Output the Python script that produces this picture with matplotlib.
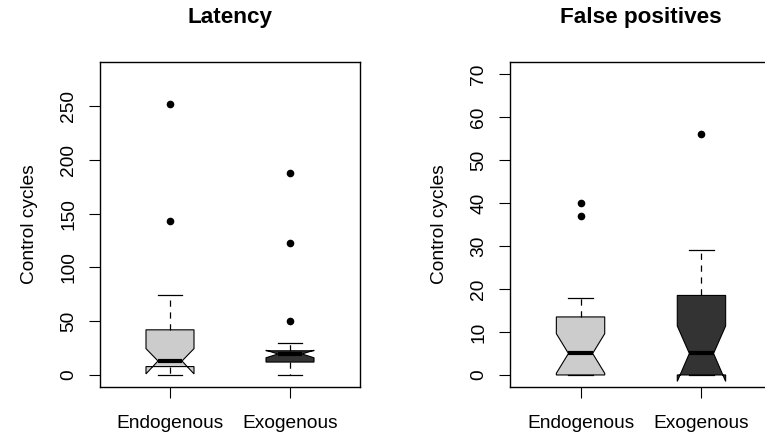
import matplotlib
matplotlib.use('Agg')
import matplotlib.pyplot as plt

plt.rcParams.update({
    'font.family': ['Liberation Sans', 'DejaVu Sans'],
    'font.size': 13.8,
})

# ---- data ----
groups = ['Endogenous', 'Exogenous']
fills = ['#CCCCCC', '#333333']

lat_q1 = [7.8, 12.0]
lat_med = [13.0, 19.5]
lat_q3 = [42.0, 22.5]
lat_cilo = [1.0, 16.0]
lat_cihi = [24.5, 23.0]
lat_whislo = [0, 0]
lat_whishi = [74, 30]
lat_fliers = [[143, 252], [50, 123, 188]]

fp_q1 = [0.0, 0.0]
fp_med = [5.0, 5.0]
fp_q3 = [13.5, 18.5]
fp_cilo = [0.4, -1.5]
fp_cihi = [9.6, 11.4]
fp_whislo = [0, 0]
fp_whishi = [18, 29]
fp_fliers = [[37, 40], [56]]

lat_ticks = [0, 50, 100, 150, 200, 250]
fp_ticks = [0, 10, 20, 30, 40, 50, 60, 70]


def make_stats(q1, med, q3, cilo, cihi, wlo, whi, fl):
    return [dict(label=groups[i], q1=q1[i], med=med[i], q3=q3[i],
                 cilo=cilo[i], cihi=cihi[i], whislo=wlo[i], whishi=whi[i],
                 fliers=fl[i]) for i in range(len(groups))]


def panel(ax, stats, ymax, ticks, title):
    bp = ax.bxp(stats, positions=[1, 2], widths=0.4, shownotches=True,
                patch_artist=True,
                boxprops=dict(edgecolor='black', linewidth=0.8),
                medianprops=dict(color='black', linewidth=3, solid_capstyle='butt'),
                whiskerprops=dict(color='black', linewidth=0.9, linestyle=(0, (5, 4.5))),
                capprops=dict(color='black', linewidth=0.9),
                flierprops=dict(marker='o', markerfacecolor='black',
                                markeredgecolor='black', markersize=4.5))
    for patch, c in zip(bp['boxes'], fills):
        patch.set_facecolor(c)
    ax.set_xlim(0.4167, 2.5833)
    ext = 0.04 * ymax
    ax.set_ylim(-ext, ymax + ext)
    ax.set_yticks(ticks)
    ax.set_yticklabels([str(t) for t in ticks], rotation=90, va='center')
    ax.set_xticks([1, 2])
    ax.set_xticklabels(groups)
    ax.tick_params(axis='both', direction='out', length=7.8, width=0.8)
    ax.tick_params(axis='y', pad=8.5)
    ax.tick_params(axis='x', pad=12)
    for s in ax.spines.values():
        s.set_linewidth(1.0)
    ax.set_ylabel('Control cycles', labelpad=16)
    ax.set_title(title, fontsize=16.2, fontweight='bold', pad=28)


fig = plt.figure(figsize=(7.65, 4.38), dpi=100)
ax1 = fig.add_axes([100 / 765, 51 / 438, 260 / 765, 325 / 438])
ax2 = fig.add_axes([510 / 765, 51 / 438, 262 / 765, 325 / 438])

panel(ax1, make_stats(lat_q1, lat_med, lat_q3, lat_cilo, lat_cihi,
                      lat_whislo, lat_whishi, lat_fliers), 280, lat_ticks, 'Latency')
panel(ax2, make_stats(fp_q1, fp_med, fp_q3, fp_cilo, fp_cihi,
                      fp_whislo, fp_whishi, fp_fliers), 70, fp_ticks, 'False positives')

fig.savefig('out.png', dpi=100, facecolor='white')
